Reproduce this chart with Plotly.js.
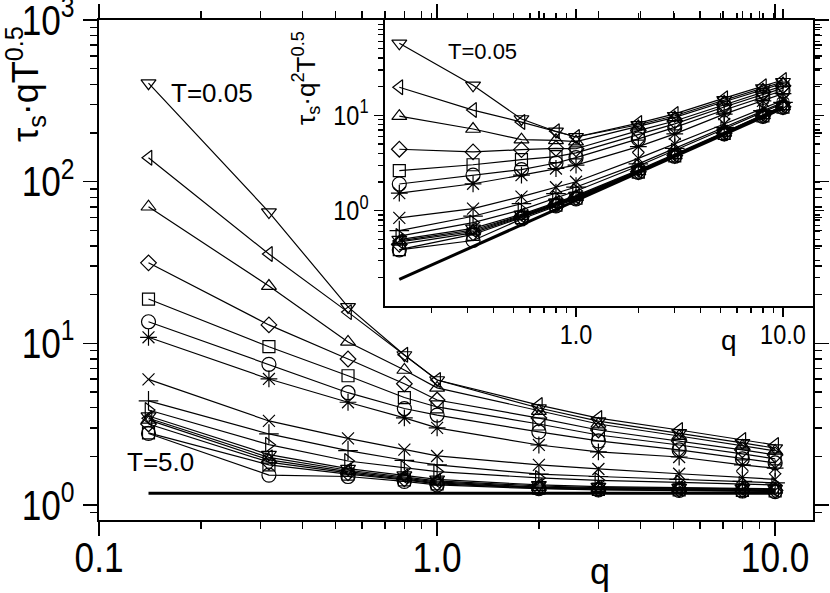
<!DOCTYPE html>
<html><head><meta charset="utf-8">
<script src="https://cdn.plot.ly/plotly-3.0.1.min.js"></script>
<style>html,body{margin:0;padding:0;background:#fff}#chart{width:830px;height:593px}</style>
</head><body><div id="chart"></div>
<script>
// wave numbers
const q = [0.14, 0.318, 0.545, 0.8, 1.0, 2.0, 3.0, 5.2, 8.0, 10.0];

// series ordered from lowest temperature (T=0.05, top) to highest (T=5.0, bottom)
const seriesNames = ['T=0.05','T2','T3','T4','T5','T6','T7','T8','T9','T10','T11','T12','T13','T14','T15','T=5.0'];
const symbols = ['triangle-down','triangle-left','triangle-up','diamond','square','circle','asterisk','x-thin','cross-thin','triangle-right','triangle-down','triangle-left','triangle-up','diamond','square','circle'];

// tau_s * q * T^0.5 (main panel)
const s01 = [407, 64.9, 16.8, 8.47, 5.93, 3.98, 3.30, 2.79, 2.42, 2.25];
const s02 = [140.6, 35.7, 15.6, 8.50, 5.93, 4.15, 3.45, 2.91, 2.52, 2.35];
const s03 = [70, 22.6, 10.2, 6.84, 5.30, 3.81, 3.17, 2.67, 2.32, 2.16];
const s04 = [31.5, 13.0, 8.0, 5.62, 4.46, 3.45, 2.91, 2.49, 2.19, 2.04];
const s05 = [18.8, 9.53, 6.3, 4.62, 4.04, 3.17, 2.71, 2.35, 2.07, 1.93];
const s06 = [13.6, 7.42, 4.95, 3.95, 3.60, 2.83, 2.49, 2.19, 1.93, 1.82];
const s07 = [10.9, 6.02, 4.32, 3.46, 3.00, 2.35, 2.13, 1.98, 1.77, 1.69];
const s08 = [5.99, 3.31, 2.58, 2.20, 2.01, 1.77, 1.67, 1.56, 1.48, 1.44];
const s09 = [4.41, 2.75, 2.17, 1.89, 1.77, 1.55, 1.50, 1.44, 1.40, 1.37];
const s10 = [3.87, 2.36, 1.87, 1.69, 1.61, 1.47, 1.42, 1.38, 1.35, 1.33];
const s11 = [3.55, 2.05, 1.68, 1.53, 1.44, 1.33, 1.30, 1.28, 1.27, 1.26];
const s12 = [3.44, 1.97, 1.64, 1.50, 1.41, 1.31, 1.28, 1.27, 1.26, 1.25];
const s13 = [3.36, 1.90, 1.61, 1.47, 1.39, 1.29, 1.27, 1.26, 1.25, 1.24];
const s14 = [3.17, 1.84, 1.58, 1.45, 1.37, 1.28, 1.26, 1.25, 1.24, 1.23];
const s15 = [2.79, 1.77, 1.55, 1.43, 1.35, 1.27, 1.25, 1.24, 1.23, 1.22];
const s16 = [2.77, 1.53, 1.50, 1.40, 1.33, 1.26, 1.24, 1.23, 1.22, 1.21];
const series = [s01,s02,s03,s04,s05,s06,s07,s08,s09,s10,s11,s12,s13,s14,s15,s16];

// thick reference lines
const refQ = [0.14, 10.0];
const refMain = [1.18, 1.18];
const refInset = [0.19, 11.9];

// ticks
const mainXTicks = [0.1, 1, 10], mainXText = ['0.1', '1.0', '10.0'];
const mainYTicks = [1, 10, 100, 1000], mainYText = ['10<sup>0</sup>','10<sup>1</sup>','10<sup>2</sup>','10<sup>3</sup>'];
const insetXTicks = [1, 10], insetXText = ['1.0', '10.0'];
const insetYTicks = [1, 10], insetYText = ['10<sup>0</sup>','10<sup>1</sup>'];
const minorX = [0.2,0.3,0.4,0.5,0.6,0.7,0.8,0.9,2,3,4,5,6,7,8,9];
const minorMainY = [0.9,2,3,4,5,6,7,8,9,20,30,40,50,60,70,80,90,200,300,400,500,600,700,800,900];
const minorInsetY = [0.2,0.3,0.4,0.5,0.6,0.7,0.8,0.9,2,3,4,5,6,7,8,9,20,30,40,50,60,70,80,90];

const sizeOf = {'circle':14,'square':12,'diamond':12,'triangle-up':13,'triangle-down':13,'triangle-left':13,'triangle-right':13,'asterisk':14,'x-thin':12,'cross-thin':14};

const traces = [];
traces.push({x: refQ, y: refMain, xaxis:'x', yaxis:'y', mode:'lines', line:{color:'#000', width:3}, hoverinfo:'skip', showlegend:false});
traces.push({x: refQ, y: refInset, xaxis:'x2', yaxis:'y2', mode:'lines', line:{color:'#000', width:3}, hoverinfo:'skip', showlegend:false});
series.forEach((s, i) => {
  const sym = symbols[i];
  const mk = {symbol: sym + '-open', size: sizeOf[sym], color:'#000', line:{color:'#000', width:1.2}};
  traces.push({x: q, y: s, name: seriesNames[i], xaxis:'x', yaxis:'y', mode:'lines+markers',
    line:{color:'#000', width:1.2}, marker: mk, showlegend:false});
  traces.push({x: q, y: s.map((v, j) => v * q[j]), name: seriesNames[i], xaxis:'x2', yaxis:'y2', mode:'lines+markers',
    line:{color:'#000', width:1.2}, marker: mk, showlegend:false});
});

const SANS = 'Liberation Sans, Arial, sans-serif';

function axis(common) {
  return Object.assign({type:'log', showline:true, linecolor:'#000', linewidth:2, mirror:'allticks',
    ticks:'outside', tickcolor:'#000', tickwidth:1.5, showgrid:false, zeroline:false, tickmode:'array',
    ticklabeloverflow:'allow'}, common);
}

// pixel -> paper helpers (plot area 99..813 x 20..520)
const L = 99, R = 813, T = 20, B = 520;
const px = v => (v - L) / (R - L);
const py = v => (B - v) / (B - T);

function ann(xp, yp, text, size, extra) {
  return Object.assign({xref:'paper', yref:'paper', x: px(xp), y: py(yp), xanchor:'center', yanchor:'middle',
    text: text, showarrow:false, font:{family:SANS, size:size, color:'#000'}}, extra || {});
}

const layout = {
  width: 830, height: 593,
  margin: {l: L, r: 830 - R, t: T, b: 593 - B, pad: 0},
  paper_bgcolor:'#fff', plot_bgcolor:'#fff',
  showlegend:false,
  xaxis: axis({domain:[0,1], anchor:'y', range:[-1.0003, 1.112], tickvals: mainXTicks, ticktext: mainXText,
    ticklen:14, tickfont:{family:SANS, size:42, color:'#000'}, ticklabelstandoff:-14,
    minor:{tickvals:minorX, ticks:'outside', ticklen:7, tickcolor:'#000', tickwidth:1.5, showgrid:false}}),
  yaxis: axis({domain:[0,1], anchor:'x', range:[-0.093, 3.0005], tickvals: mainYTicks, ticktext: mainYText,
    ticklen:14, tickfont:{family:SANS, size:42, color:'#000'},
    minor:{tickvals:minorMainY, ticks:'outside', ticklen:7, tickcolor:'#000', tickwidth:1.5, showgrid:false}}),
  xaxis2: axis({domain:[px(385), 1], anchor:'y2', range:[-0.923, 1.145], tickvals: insetXTicks, ticktext: insetXText,
    ticklen:9, tickfont:{family:SANS, size:28, color:'#000'}, linewidth:1.8, ticklabelstandoff:-6,
    minor:{tickvals:minorX, ticks:'outside', ticklen:5, tickcolor:'#000', tickwidth:1.3, showgrid:false}}),
  yaxis2: axis({domain:[py(306), 1], anchor:'x2', range:[-1, 2], tickvals: insetYTicks, ticktext: insetYText,
    ticklen:9, tickfont:{family:SANS, size:28, color:'#000'}, linewidth:1.8,
    minor:{tickvals:minorInsetY, ticks:'outside', ticklen:5, tickcolor:'#000', tickwidth:1.3, showgrid:false}}),
  annotations: [
    ann(600, 571, 'q', 36),
    ann(25, 84, 'τ<sub>s</sub>·qT<sup>0.5</sup>', 36, {textangle:-90}),
    ann(729, 340, 'q', 28),
    ann(306, 78, 'τ<sub>s</sub>·q<sup>2</sup>T<sup>0.5</sup>', 26, {textangle:-90}),
    ann(212, 93, 'T=0.05', 26),
    ann(160, 462, 'T=5.0', 26),
    ann(482, 52, 'T=0.05', 22)
  ]
};

Plotly.newPlot('chart', traces, layout, {staticPlot:true, displayModeBar:false}).then(gd => {
  // the reference tick labels use a condensed face: compress them horizontally about their anchor
  const sx = 0.84;
  gd.querySelectorAll('g.xtick > text, g.ytick > text, g.x2tick > text, g.y2tick > text').forEach(t => {
    const x = parseFloat(t.getAttribute('x')) || 0;
    const tr = t.getAttribute('transform') || '';
    t.setAttribute('transform', tr + ' translate(' + x + ',0) scale(' + sx + ',1) translate(' + (-x) + ',0)');
  });
});
</script>
</body></html>
